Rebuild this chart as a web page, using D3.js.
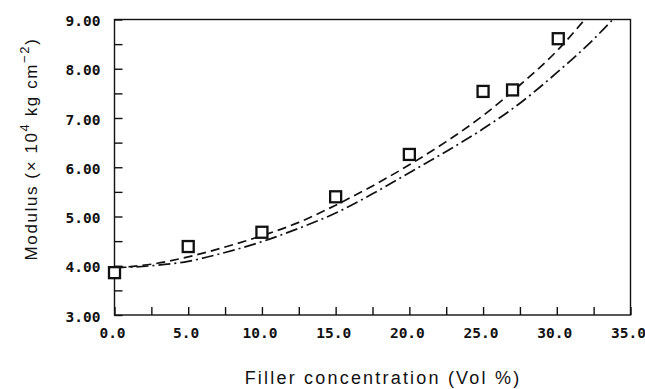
<!DOCTYPE html>
<html>
<head>
<meta charset="utf-8">
<script src="https://cdn.jsdelivr.net/npm/d3@7"></script>
<style>
  body { margin: 0; background: #fff; }
  .tick-label { font-family: "DejaVu Sans Mono", monospace; font-weight: bold; font-size: 14.5px; fill: #111; }
  .axis-title { font-family: "Liberation Sans", Arial, sans-serif; font-size: 17px; fill: #111; }
</style>
</head>
<body>
<div class="chart"></div>
<script>
// measured points (filler vol %, modulus x10^4 kg/cm2)
const fillerPct = [0, 5, 10, 15, 20, 25, 27, 30.1];
const modulus = [3.86, 4.39, 4.68, 5.40, 6.26, 7.54, 7.57, 8.61];

// theory curves
const dashedX = [0, 2.5, 5, 7.5, 10, 12.5, 15, 17.5, 20, 22.5, 25, 27.5, 30, 31.9];
const dashedY = [3.96, 4.03, 4.18, 4.38, 4.61, 4.88, 5.23, 5.62, 6.05, 6.52, 7.05, 7.67, 8.36, 9.0];
const dashDotX = [0, 2.5, 5, 7.5, 10, 12.5, 15, 17.5, 20, 22.5, 25, 27.5, 30, 32.5, 33.8];
const dashDotY = [3.96, 4.00, 4.09, 4.27, 4.49, 4.76, 5.07, 5.46, 5.89, 6.32, 6.78, 7.30, 7.92, 8.60, 9.0];

const xTicks = [0, 2.5, 5, 7.5, 10, 12.5, 15, 17.5, 20, 22.5, 25, 27.5, 30, 32.5, 35];
const yTicks = [3, 3.5, 4, 4.5, 5, 5.5, 6, 6.5, 7, 7.5, 8, 8.5, 9];

const width = 645, height = 389;
const plot = {left: 114.5, right: 630.5, top: 19.5, bottom: 315};

const svg = d3.select('.chart').append('svg')
  .attr('width', width)
  .attr('height', height);

const x = d3.scaleLinear().domain([0, 35]).range([plot.left, plot.right]);
const y = d3.scaleLinear().domain([3, 9]).range([plot.bottom, plot.top]);

// frame
svg.append('rect')
  .attr('x', plot.left).attr('y', plot.top)
  .attr('width', plot.right - plot.left).attr('height', plot.bottom - plot.top)
  .attr('fill', 'none').attr('stroke', '#111').attr('stroke-width', 1.4);

// x axis, ticks pointing in
const xAxis = svg.append('g')
  .attr('transform', `translate(0,${plot.bottom})`)
  .call(d3.axisBottom(x).tickValues(xTicks).tickSizeInner(-8).tickSizeOuter(0).tickPadding(13)
    .tickFormat(d => d % 5 === 0 ? d3.format('.1f')(d) : ''));
xAxis.select('.domain').remove();
xAxis.selectAll('line').attr('stroke', '#111').attr('stroke-width', 1.4);
xAxis.selectAll('text').attr('class', 'tick-label').attr('dx', -2.5);
xAxis.attr('font-size', null).attr('font-family', null);

// y axis
const yAxis = svg.append('g')
  .attr('transform', `translate(${plot.left},0)`)
  .call(d3.axisLeft(y).tickValues(yTicks).tickSizeInner(-8).tickSizeOuter(0).tickPadding(14)
    .tickFormat(d => d % 1 === 0 ? d3.format('.2f')(d) : ''));
yAxis.select('.domain').remove();
yAxis.selectAll('line').attr('stroke', '#111').attr('stroke-width', 1.4);
yAxis.selectAll('text').attr('class', 'tick-label').attr('dy', '0.42em');
yAxis.attr('font-size', null).attr('font-family', null);

// curves
const line = d3.line()
  .x(d => x(d[0]))
  .y(d => y(d[1]))
  .curve(d3.curveMonotoneX);

svg.append('path')
  .datum(d3.zip(dashedX, dashedY))
  .attr('d', line)
  .attr('fill', 'none').attr('stroke', '#111').attr('stroke-width', 1.7)
  .attr('stroke-dasharray', '9,5');

svg.append('path')
  .datum(d3.zip(dashDotX, dashDotY))
  .attr('d', line)
  .attr('fill', 'none').attr('stroke', '#111').attr('stroke-width', 1.7)
  .attr('stroke-dasharray', '12,4,2,4');

// data squares
const sq = 11;
svg.append('g').selectAll('rect')
  .data(d3.zip(fillerPct, modulus))
  .join('rect')
  .attr('x', d => x(d[0]) - sq / 2)
  .attr('y', d => y(d[1]) - sq / 2)
  .attr('width', sq).attr('height', sq)
  .attr('fill', '#fff').attr('stroke', '#111').attr('stroke-width', 2.3);

// axis titles
svg.append('text')
  .attr('class', 'axis-title')
  .attr('x', 383).attr('y', 384)
  .attr('text-anchor', 'middle')
  .style('font-size', '18px')
  .style('letter-spacing', '2.2px')
  .text('Filler concentration (Vol %)');

const yt = svg.append('text')
  .attr('class', 'axis-title')
  .attr('transform', 'translate(36.5,149) rotate(-90)')
  .attr('text-anchor', 'middle')
  .style('letter-spacing', '1.6px');
yt.append('tspan').text('Modulus (\u00d7 10');
yt.append('tspan').attr('dy', -8).style('font-size', '13px').text('4');
yt.append('tspan').attr('dy', 8).text(' kg cm');
yt.append('tspan').attr('dy', -8).style('font-size', '13px').text('\u22122');
yt.append('tspan').attr('dy', 8).text(')');
</script>
</body>
</html>
